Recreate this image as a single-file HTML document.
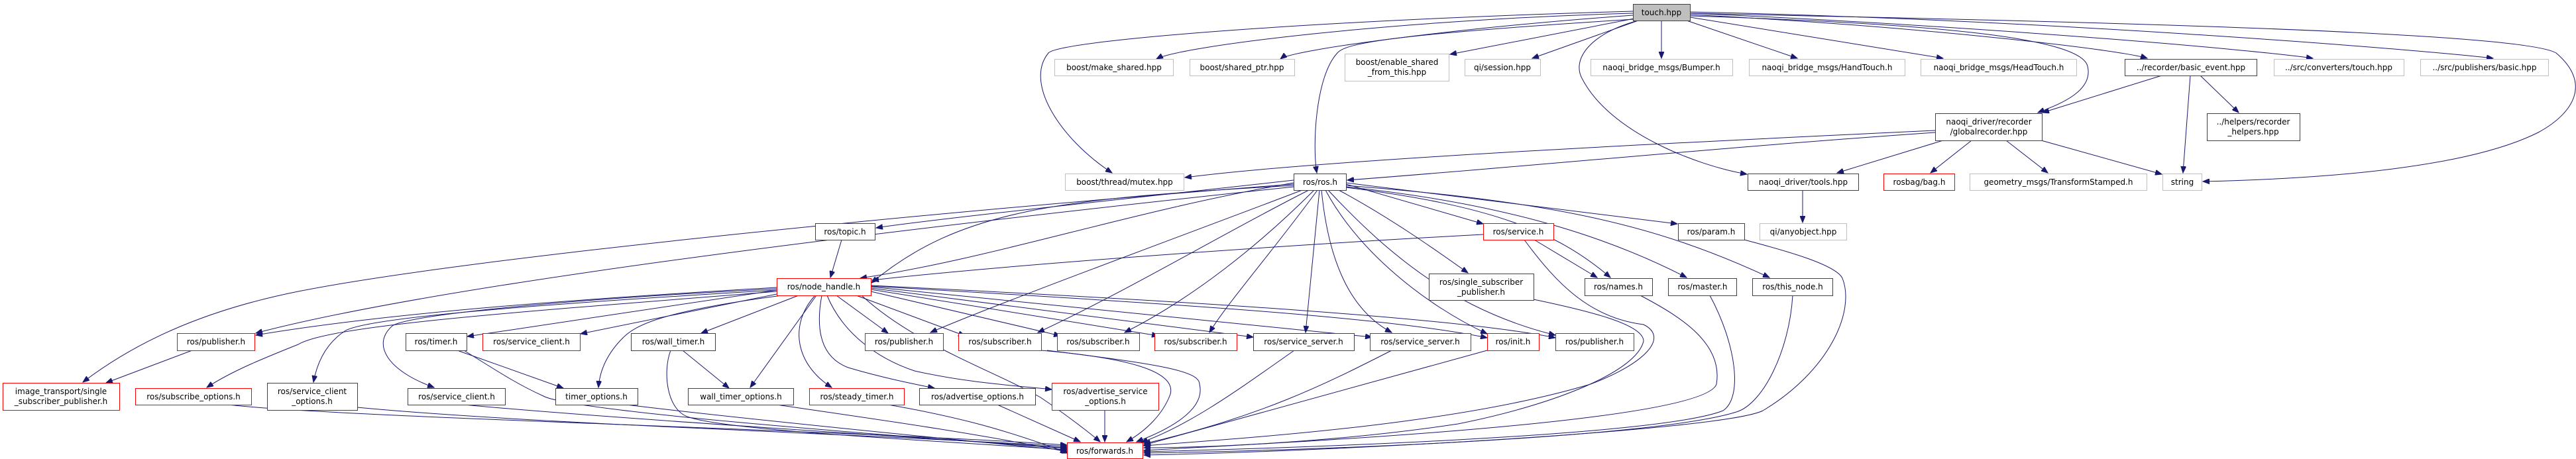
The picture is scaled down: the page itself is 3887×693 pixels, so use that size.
<!DOCTYPE html>
<html><head><meta charset="utf-8"><style>
html,body{margin:0;padding:0;background:#fff;}
svg{display:block;}
text{font-family:"DejaVu Sans","Liberation Sans",sans-serif;font-size:12px;fill:#000;text-anchor:middle;}
.e{fill:none;stroke:#191970;stroke-width:1;marker-end:url(#a);}
.k{fill:#fff;stroke:#404040;stroke-width:1;}
.r{fill:#fff;stroke:#ff0000;stroke-width:1;}
.g{fill:#fff;stroke:#bfbfbf;stroke-width:1;}
</style></head><body>
<svg width="3887" height="693" viewBox="0 0 3887 693" xmlns="http://www.w3.org/2000/svg">
<defs><marker id="a" markerUnits="userSpaceOnUse" markerWidth="11" markerHeight="8" refX="10" refY="4" orient="auto"><path d="M0,0 L10,4 L0,8 z" fill="#191970" stroke="#191970"/></marker></defs>

<path class="e" d="M2464,20 C2100,30 1780,70 1745,89"/>
<path class="e" d="M2464,23 C2200,42 1950,75 1932,89"/>
<path class="e" d="M2466,28 L2188,82"/>
<path class="e" d="M2472,31 L2312,88"/>
<path class="e" d="M2507,31 L2507,88"/>
<path class="e" d="M2545,31 L2712,88"/>
<path class="e" d="M2550,26 L2932,88"/>
<path class="e" d="M2550,22 C2900,40 3200,75 3240,88"/>
<path class="e" d="M2550,20 C3000,40 3400,75 3490,88"/>
<path class="e" d="M2550,18 C3100,30 3650,75 3762,88"/>
<path class="e" d="M2464,17 C2000,30 1600,60 1582,80 C1545,125 1600,210 1678,261"/>
<path class="e" d="M2466,29 C2100,52 2030,65 2018,80 C1985,115 1980,220 1987,261"/>
<path class="e" d="M2472,31 C2400,50 2370,90 2388,120 C2430,200 2560,250 2636,263"/>
<path class="e" d="M2550,24 C2900,35 3140,55 3150,100 C3160,140 3100,160 3075,170"/>
<path class="e" d="M2550,20 C3000,30 3800,45 3857,80 C3910,125 3885,170 3830,200 C3720,255 3500,270 3324,274"/>

<path class="e" d="M3262,114 L3082,170"/>
<path class="e" d="M3305,114 L3294,261"/>
<path class="e" d="M3320,114 L3378,170"/>

<path class="e" d="M2920,197 C2600,212 2000,240 1788,268"/>
<path class="e" d="M2920,200 C2600,222 2300,252 2033,272"/>
<path class="e" d="M2932,212 L2772,261"/>
<path class="e" d="M2975,212 L2913,261"/>
<path class="e" d="M3027,212 L3090,261"/>
<path class="e" d="M3080,212 L3262,263"/>

<path class="e" d="M2720,287 L2720,336"/>

<path class="e" d="M1952,272 C1700,300 1400,332 1322,344"/>
<path class="e" d="M1952,276 C1700,320 1500,390 1298,420"/>
<path class="e" d="M1952,280 C1600,300 1450,315 1315,427"/>
<path class="e" d="M1952,278 C1400,320 700,390 450,440 C300,470 200,520 125,577"/>
<path class="e" d="M1952,282 C1500,330 700,420 386,503"/>
<path class="e" d="M1965,287 C1800,350 1500,460 1404,502"/>
<path class="e" d="M1975,287 C1850,350 1700,440 1566,502"/>
<path class="e" d="M1983,287 C1900,370 1800,450 1697,502"/>
<path class="e" d="M1988,287 C1920,380 1850,460 1825,502"/>
<path class="e" d="M1991,287 L1970,502"/>
<path class="e" d="M1994,287 C2005,400 2040,470 2100,502"/>
<path class="e" d="M2000,287 C2050,380 2150,460 2244,504"/>
<path class="e" d="M2004,287 C2100,390 2200,470 2347,506"/>
<path class="e" d="M2031,278 L2238,338"/>
<path class="e" d="M2020,287 C2100,330 2170,380 2215,412"/>
<path class="e" d="M2031,283 C2250,310 2350,350 2430,419"/>
<path class="e" d="M2031,282 C2300,310 2450,370 2545,419"/>
<path class="e" d="M2031,280 C2350,305 2500,340 2670,419"/>
<path class="e" d="M2031,276 L2531,338"/>

<path class="e" d="M1270,362 L1253,419"/>
<path class="e" d="M2238,354 C1900,372 1500,402 1316,423"/>
<path class="e" d="M2315,362 L2410,419"/>
<path class="e" d="M2300,362 C2350,430 2400,480 2480,490 C2520,510 2480,550 2400,580 C2200,640 1900,660 1726,673"/>

<path class="e" d="M1172,434 C900,450 600,470 386,506"/>
<path class="e" d="M1172,438 L705,508"/>
<path class="e" d="M1172,444 L876,504"/>
<path class="e" d="M1172,440 C800,470 500,490 450,520 C400,540 350,560 312,585"/>
<path class="e" d="M1172,438 C800,460 550,480 520,500 C490,520 478,550 473,577"/>
<path class="e" d="M1172,436 C800,455 610,478 592,492 C560,520 585,560 655,585"/>
<path class="e" d="M1205,446 L1058,503"/>
<path class="e" d="M1180,446 C1000,470 960,490 940,510 C915,535 905,560 903,585"/>
<path class="e" d="M1232,446 L1132,585"/>
<path class="e" d="M1230,446 C1190,490 1200,550 1255,585"/>
<path class="e" d="M1262,446 L1340,503"/>
<path class="e" d="M1240,446 C1230,500 1240,540 1280,555 C1330,570 1380,580 1410,586"/>
<path class="e" d="M1248,446 C1270,500 1320,540 1380,560 C1460,578 1530,582 1587,588"/>
<path class="e" d="M1292,446 L1456,507"/>
<path class="e" d="M1314,440 L1600,507"/>
<path class="e" d="M1314,437 L1748,507"/>
<path class="e" d="M1314,435 L1891,509"/>
<path class="e" d="M1314,433 L2070,509"/>
<path class="e" d="M1314,432 C1800,460 2100,480 2244,510"/>
<path class="e" d="M1314,431 C1800,455 2200,480 2347,510"/>
<path class="e" d="M1300,446 C1380,520 1500,560 1570,600 C1600,620 1640,650 1660,667"/>

<path class="e" d="M290,529 L160,578"/>
<path class="e" d="M345,611 C500,630 1300,650 1610,672"/>
<path class="e" d="M539,615 C800,640 1300,655 1610,674"/>
<path class="e" d="M700,611 C900,630 1300,655 1610,676"/>
<path class="e" d="M690,529 L850,586"/>
<path class="e" d="M700,529 C750,560 780,580 820,598 C860,620 1300,655 1610,677"/>
<path class="e" d="M1030,529 L1100,586"/>
<path class="e" d="M1012,529 C1000,560 1005,620 1040,630 C1100,650 1400,665 1610,679"/>
<path class="e" d="M945,611 C1100,630 1400,660 1610,680"/>
<path class="e" d="M1172,611 C1300,630 1450,650 1610,682"/>
<path class="e" d="M1340,611 C1450,630 1520,650 1612,684"/>
<path class="e" d="M1505,611 L1630,667"/>
<path class="e" d="M1667,619 L1667,667"/>
<path class="e" d="M1571,529 C1700,540 1775,560 1766,595 C1755,625 1730,650 1700,667"/>
<path class="e" d="M1580,529 C1750,550 1810,560 1810,580 C1820,620 1760,650 1715,667"/>
<path class="e" d="M1953,529 C1880,580 1800,640 1722,668"/>
<path class="e" d="M2100,529 C2000,580 1900,630 1726,670"/>
<path class="e" d="M2244,529 L1726,672"/>
<path class="e" d="M2314,452 C2400,470 2480,490 2480,515 C2470,560 2350,610 2200,640 C2000,670 1800,676 1726,676"/>
<path class="e" d="M2475,446 C2540,480 2600,520 2590,580 C2570,640 1900,670 1726,680"/>
<path class="e" d="M2580,446 C2620,520 2630,600 2600,620 C2500,660 1900,678 1726,682"/>
<path class="e" d="M2705,446 C2700,530 2660,610 2620,622 C2500,660 2000,680 1726,684"/>
<path class="e" d="M2632,362 C2700,380 2770,400 2780,420 C2800,470 2760,560 2660,620 C2600,650 2000,682 1726,687"/>

<rect x="2464.5" y="6.5" width="86" height="25" fill="#bfbfbf" stroke="#404040"/><text x="2507" y="23">touch.hpp</text>
<rect class="g" x="1591.5" y="89.5" width="179" height="25"/><text x="1681" y="106">boost/make_shared.hpp</text>
<rect class="g" x="1795.5" y="89.5" width="158" height="25"/><text x="1874" y="106">boost/shared_ptr.hpp</text>
<rect class="g" x="2029.5" y="81.5" width="157" height="41"/><text x="2108" y="98">boost/enable_shared</text><text x="2108" y="113">_from_this.hpp</text>
<rect class="g" x="2210.5" y="89.5" width="114" height="25"/><text x="2267" y="106">qi/session.hpp</text>
<rect class="g" x="2400.5" y="89.5" width="214" height="25"/><text x="2507" y="106">naoqi_bridge_msgs/Bumper.h</text>
<rect class="g" x="2639.5" y="89.5" width="235" height="25"/><text x="2757" y="106">naoqi_bridge_msgs/HandTouch.h</text>
<rect class="g" x="2898.5" y="89.5" width="235" height="25"/><text x="3016" y="106">naoqi_bridge_msgs/HeadTouch.h</text>
<rect class="k" x="3206.5" y="89.5" width="199" height="25"/><text x="3306" y="106">../recorder/basic_event.hpp</text>
<rect class="g" x="3431.5" y="89.5" width="196" height="25"/><text x="3529" y="106">../src/converters/touch.hpp</text>
<rect class="g" x="3652.5" y="89.5" width="193" height="25"/><text x="3749" y="106">../src/publishers/basic.hpp</text>
<rect class="k" x="2920.5" y="171.5" width="161" height="41"/><text x="3001" y="188">naoqi_driver/recorder</text><text x="3001" y="203">/globalrecorder.hpp</text>
<rect class="k" x="3330.5" y="171.5" width="140" height="41"/><text x="3400" y="188">../helpers/recorder</text><text x="3400" y="203">_helpers.hpp</text>
<rect class="g" x="1607.5" y="262.5" width="179" height="25"/><text x="1697" y="279">boost/thread/mutex.hpp</text>
<rect class="k" x="1952.5" y="262.5" width="79" height="25"/><text x="1992" y="279">ros/ros.h</text>
<rect class="k" x="2637.5" y="262.5" width="167" height="25"/><text x="2721" y="279">naoqi_driver/tools.hpp</text>
<rect class="r" x="2842.5" y="262.5" width="107" height="25"/><text x="2896" y="279">rosbag/bag.h</text>
<rect class="g" x="2972.5" y="262.5" width="267" height="25"/><text x="3106" y="279">geometry_msgs/TransformStamped.h</text>
<rect class="g" x="3263.5" y="262.5" width="59" height="25"/><text x="3293" y="279">string</text>
<rect class="k" x="1230.5" y="337.5" width="90" height="25"/><text x="1275" y="354">ros/topic.h</text>
<rect class="r" x="2238.5" y="337.5" width="106" height="25"/><text x="2291" y="354">ros/service.h</text>
<rect class="k" x="2532.5" y="337.5" width="100" height="25"/><text x="2582" y="354">ros/param.h</text>
<rect class="g" x="2655.5" y="337.5" width="131" height="25"/><text x="2721" y="354">qi/anyobject.hpp</text>
<rect class="r" x="1172.5" y="420.5" width="142" height="26"/><text x="1243" y="437">ros/node_handle.h</text>
<rect class="k" x="2156.5" y="413.5" width="158" height="40"/><text x="2235" y="430">ros/single_subscriber</text><text x="2235" y="445">_publisher.h</text>
<rect class="k" x="2391.5" y="420.5" width="102" height="26"/><text x="2442" y="437">ros/names.h</text>
<rect class="k" x="2517.5" y="420.5" width="103" height="26"/><text x="2569" y="437">ros/master.h</text>
<rect class="k" x="2644.5" y="420.5" width="121" height="26"/><text x="2705" y="437">ros/this_node.h</text>

<rect class="r" x="267.5" y="503.5" width="117" height="26"/><text x="326" y="520">ros/publisher.h</text>
<rect class="k" x="612.5" y="503.5" width="92" height="26"/><text x="658" y="520">ros/timer.h</text>
<rect class="r" x="728.5" y="503.5" width="147" height="26"/><text x="802" y="520">ros/service_client.h</text>
<rect class="k" x="952.5" y="503.5" width="127" height="26"/><text x="1016" y="520">ros/wall_timer.h</text>
<rect class="r" x="1305.5" y="503.5" width="118" height="26"/><text x="1364" y="520">ros/publisher.h</text>
<rect class="r" x="1446.5" y="503.5" width="125" height="26"/><text x="1509" y="520">ros/subscriber.h</text>
<rect class="r" x="1595.5" y="503.5" width="124" height="26"/><text x="1657" y="520">ros/subscriber.h</text>
<rect class="r" x="1742.5" y="503.5" width="124" height="26"/><text x="1804" y="520">ros/subscriber.h</text>
<rect class="k" x="1891.5" y="503.5" width="152" height="26"/><text x="1967" y="520">ros/service_server.h</text>
<rect class="r" x="2067.5" y="503.5" width="152" height="26"/><text x="2143" y="520">ros/service_server.h</text>
<rect class="r" x="2244.5" y="503.5" width="78" height="26"/><text x="2283" y="520">ros/init.h</text>
<rect class="r" x="2347.5" y="503.5" width="118" height="26"/><text x="2406" y="520">ros/publisher.h</text>

<rect class="r" x="4.5" y="578.5" width="176" height="41"/><text x="92" y="595">image_transport/single</text><text x="92" y="610">_subscriber_publisher.h</text>
<rect class="r" x="204.5" y="586.5" width="175" height="25"/><text x="292" y="603">ros/subscribe_options.h</text>
<rect class="k" x="403.5" y="578.5" width="136" height="41"/><text x="471" y="595">ros/service_client</text><text x="471" y="610">_options.h</text>
<rect class="k" x="615.5" y="586.5" width="147" height="25"/><text x="689" y="603">ros/service_client.h</text>
<rect class="k" x="838.5" y="586.5" width="124" height="25"/><text x="900" y="603">timer_options.h</text>
<rect class="k" x="1038.5" y="586.5" width="159" height="25"/><text x="1118" y="603">wall_timer_options.h</text>
<rect class="r" x="1221.5" y="586.5" width="143" height="25"/><text x="1293" y="603">ros/steady_timer.h</text>
<rect class="k" x="1387.5" y="586.5" width="175" height="25"/><text x="1475" y="603">ros/advertise_options.h</text>
<rect class="r" x="1587.5" y="578.5" width="161" height="41"/><text x="1668" y="595">ros/advertise_service</text><text x="1668" y="610">_options.h</text>
<rect class="r" x="1610.5" y="668.5" width="114" height="24"/><text x="1667" y="685">ros/forwards.h</text>
</svg>
</body></html>
